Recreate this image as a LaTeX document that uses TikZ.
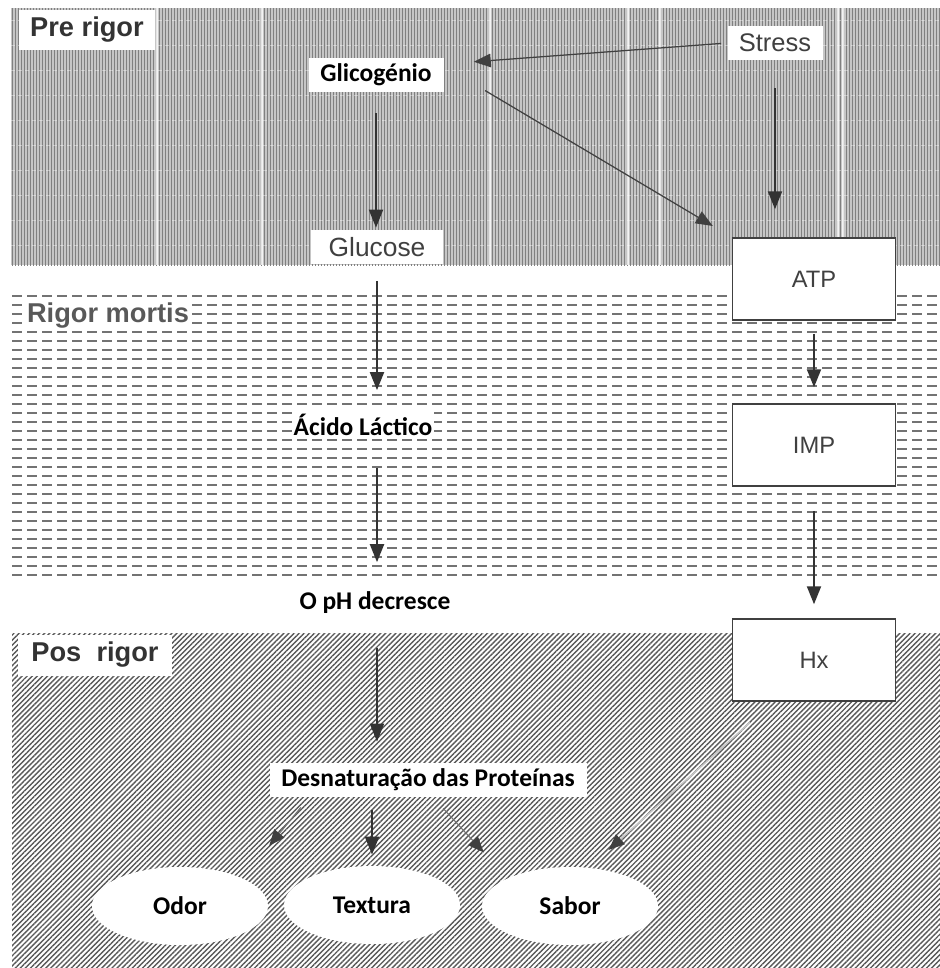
\documentclass[tikz,border=0pt]{standalone}
\usepackage{fontspec}
\setmainfont{Liberation Sans}
\newfontfamily\calibri{Carlito}
\usepackage{tikz}
\usetikzlibrary{
  arrows.meta,
  positioning,
  calc,
  patterns.meta,
  shapes.geometric
}

\begin{document}
\begin{tikzpicture}[x=0.2mm, y=-0.2mm,
    seta/.style={-{Triangle[length=3.6mm,width=2.8mm]}, line width=0.4mm, black!80},
    setafina/.style={-{Triangle[length=3.4mm,width=2.7mm]}, line width=0.25mm, black!75},
    setaclara/.style={-{Triangle[length=3.2mm,width=2.6mm,color=black!75]}, line width=0.22mm, black!55},
    rotulo/.style={fill=white, inner sep=2pt, font=\calibri\bfseries\fontsize{14.5}{17}\selectfont},
    rotulocinza/.style={fill=white, inner sep=2pt, text=black!75, font=\fontsize{14.5}{17}\selectfont},
    fase/.style={fill=white, inner sep=3pt, text=black!80, font=\bfseries\fontsize{15.5}{18}\selectfont},
    caixa/.style={draw=black!75, line width=0.3mm, fill=white, minimum width=32.6mm, minimum height=16.4mm, text=black!75, font=\fontsize{13.5}{16}\selectfont},
    oval/.style={ellipse, fill=white, minimum width=35.2mm, minimum height=15.6mm, font=\calibri\bfseries\fontsize{14.5}{17}\selectfont}]
    \useasboundingbox (0,0) rectangle (940,968);

    % Fundo pre rigor
    \fill[gray!45] (11,8) rectangle (940,265);
    \fill[pattern={Lines[angle=90,distance=0.6mm,line width=0.2mm]}, pattern color=black!50] (11,8) rectangle (940,265);
    \foreach \x in {157,262,490,628,660,838,843}
        \draw[white, opacity=0.8, line width=0.3mm] (\x,8) -- (\x,265);
    \foreach \y in {20,45,...,265}
        \draw[white, opacity=0.4, line width=0.2mm, dash pattern=on 0.8mm off 0.6mm] (11,\y) -- (940,\y);

    % Fundo rigor mortis
    \foreach \y in {296,305,...,578}
        \draw[black!55, line width=0.55mm, dash pattern=on 2mm off 1mm] (12,\y) -- (940,\y);

    % Fundo pos rigor
    \fill[pattern={Lines[angle=45,distance=0.72mm,line width=0.28mm]}, pattern color=black!65] (12,633) rectangle (940,968);

    % Pre rigor
    \node[fase, minimum width=27mm, minimum height=8mm] (pre) at (87,30) {Pre rigor};
    \node[rotulo, minimum width=27mm, minimum height=6.8mm] (glic) at (376,75) {Glicogénio};
    \node[rotulocinza, minimum width=19mm, minimum height=6.8mm] (stress) at (775,43) {Stress};
    \node[rotulocinza, font=\fontsize{15}{18}\selectfont, minimum width=26.4mm, minimum height=6.8mm] (glu) at (377,247) {Glucose};
    \node[caixa] (atp) at (814,279) {ATP};

    % Rigor mortis
    \node[fase, inner sep=1pt, text=black!65] (rig) at (108,316) {Rigor mortis};
    \node[rotulo, inner sep=1pt] (acido) at (363,425) {Ácido Láctico};
    \node[caixa] (imp) at (814,445) {IMP};
    \node[rotulo] (ph) at (375,603) {O pH decresce};
    \node[caixa] (hx) at (814,660) {Hx};

    % Pos rigor
    \node[fase, minimum width=30.8mm, minimum height=8.2mm] (pos) at (95,655) {Pos\ \ rigor};
    \node[rotulo, minimum width=63.4mm, minimum height=6.8mm] (desn) at (428,780) {Desnaturação das Proteínas};
    \node[oval] (odor) at (180,906) {Odor};
    \node[oval] (textura) at (372,905) {Textura};
    \node[oval] (sabor) at (570,906) {Sabor};

    % Setas
    \draw[setafina, shorten <=1.2mm, shorten >=6mm] (stress.west) -- ([yshift=2.2mm]glic.east);
    \draw[setafina, shorten <=9.6mm, shorten >=4.4mm] ([yshift=1.8mm]glic.east) -- (atp.north west);
    \draw[seta, shorten <=5.6mm, shorten >=5.6mm] (stress.south) -- (stress.south |- atp.north);
    \draw[seta, shorten <=4.2mm, shorten >=0.4mm] (glic.south) -- (glic.south |- glu.north);
    \draw[seta, shorten <=3.3mm, shorten >=4.4mm] (glu.south) -- (glu.south |- acido.north);
    \draw[seta, shorten <=6mm, shorten >=5.2mm] (glu.south |- acido.south) -- (glu.south |- ph.north);
    \draw[seta, shorten <=6mm, shorten >=4.2mm] (glu.south |- ph.south) -- (glu.south |- desn.north);
    \draw[seta, shorten <=2.6mm, shorten >=3.2mm] (atp.south) -- (imp.north);
    \draw[seta, shorten <=4.8mm, shorten >=2.8mm] (imp.south) -- (hx.north);
    \draw[seta, shorten <=2.6mm, shorten >=2.2mm] (textura.north |- desn.south) -- (textura.north);
    \draw[setaclara, shorten <=2.6mm, shorten >=8.4mm] ([xshift=8mm]desn.south west) -- (odor.north east);
    \draw[setaclara, shorten <=3mm, shorten >=7mm] ([xshift=1mm]desn.south) -- (sabor.north west);
    \draw[setaclara, line width=0.3mm, gray!45, shorten <=6.2mm, shorten >=5mm] ([xshift=-8.2mm]hx.south) -- ([xshift=4mm]sabor.north);
\end{tikzpicture}
\end{document}
